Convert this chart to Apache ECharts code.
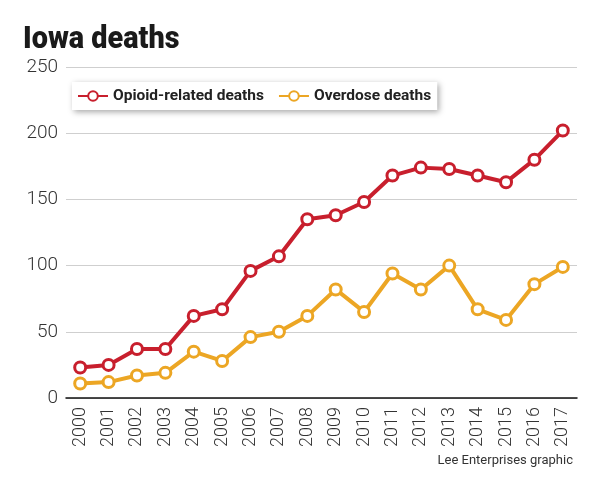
<!DOCTYPE html>
<html>
<head>
<meta charset="utf-8">
<script src="https://cdn.jsdelivr.net/npm/echarts@6/dist/echarts.min.js"></script>
<style>html,body{margin:0;padding:0;background:#fff}#c{width:594px;height:477px}</style>
</head>
<body>
<div id="c"></div>
<script>
var years = ['2000','2001','2002','2003','2004','2005','2006','2007','2008','2009','2010','2011','2012','2013','2014','2015','2016','2017'];
var opioidDeaths = [23,25,37,37,62,67,96,107,135,138,148,168,174,173,168,163,180,202];
var overdoseDeaths = [11,12,17,19,35,28,46,50,62,82,65,94,82,100,67,59,86,99];
var seriesNames = ['Opioid-related deaths','Overdose deaths'];
var RED = '#c81f2d', ORANGE = '#eca624';
var FONT = "Roboto, sans-serif";

var chart = echarts.init(document.getElementById('c'), null, {renderer:'canvas'});
function mkSeries(name, data, color){
  return {
    name: name, type: 'line', data: data,
    symbol: 'circle', symbolSize: 11,
    lineStyle: {color: color, width: 4},
    itemStyle: {color: '#fff', borderColor: color, borderWidth: 3},
    color: color,
    emphasis: {disabled: true},
    animation: false
  };
}
chart.setOption({
  animation: false,
  graphic: [
    {type: 'text', left: 23, top: 25, scaleX: 0.93,
     style: {text: 'Iowa deaths', font: "900 31px Roboto, sans-serif", fill: '#1a1a1a'}}
  ],
  title: [
    {text: 'Lee Enterprises graphic', right: 16, top: 449,
     textStyle: {fontFamily: FONT, fontSize: 13, fontWeight: 'normal', color: '#333'}}
  ],
  legend: {
    left: 72, top: 82,
    padding: [6, 6, 6, 5],
    itemWidth: 30, itemHeight: 12, itemGap: 14,
    backgroundColor: '#fff',
    shadowBlur: 6, shadowColor: 'rgba(0,0,0,0.35)', shadowOffsetX: 2, shadowOffsetY: 2,
    textStyle: {fontFamily: FONT, fontSize: 15.5, fontWeight: 'bold', color: '#222'},
    data: seriesNames
  },
  grid: {left: 66, right: 17, top: 67, bottom: 79, containLabel: false},
  xAxis: {
    type: 'category', data: years, boundaryGap: true,
    axisLine: {lineStyle: {color: '#111', width: 1.5}},
    axisTick: {inside: true, length: 9, lineStyle: {color: '#111', width: 1.2}},
    axisLabel: {rotate: 90, margin: 9, fontFamily: FONT, fontWeight: 300, fontSize: 18, color: '#333', interval: 0}
  },
  yAxis: {
    type: 'value', min: 0, max: 250, interval: 50,
    axisLine: {show: false}, axisTick: {show: false},
    splitLine: {lineStyle: {color: '#cfcfcf', width: 1}},
    axisLabel: {margin: 8, fontFamily: FONT, fontWeight: 300, fontSize: 19, color: '#333'}
  },
  series: [
    mkSeries(seriesNames[0], opioidDeaths, RED),
    mkSeries(seriesNames[1], overdoseDeaths, ORANGE)
  ]
});
</script>
</body>
</html>
